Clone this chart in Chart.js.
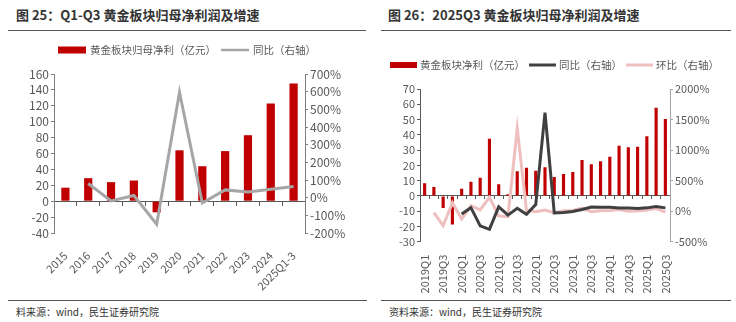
<!DOCTYPE html>
<html>
<head>
<meta charset="utf-8">
<script src="https://cdn.jsdelivr.net/npm/chart.js@4.4.0/dist/chart.umd.min.js"></script>
<style>
  body { margin: 0; width: 736px; height: 322px; background: #fff; position: relative; overflow: hidden; font-family: 'Noto Sans CJK SC', sans-serif; }
  .title { position: absolute; top: 6px; font-size: 13px; line-height: 18px; font-weight: bold; color: #333; white-space: nowrap; }
  .rule { position: absolute; height: 0; border-top: 1.5px solid #555; }
  .source { position: absolute; top: 305px; font-size: 10px; line-height: 14px; color: #333; white-space: nowrap; }
  canvas { position: absolute; top: 0; }
</style>
</head>
<body>
<div class="title" style="left:16px">图 25：Q1-Q3 黄金板块归母净利润及增速</div>
<div class="title" style="left:388px">图 26：2025Q3 黄金板块归母净利润及增速</div>
<div class="rule" style="left:8px;width:358px;top:30px"></div>
<div class="rule" style="left:381px;width:350px;top:30px"></div>

<canvas id="annual" width="368" height="300" style="left:0"></canvas>
<canvas id="quarterly" width="368" height="300" style="left:368px"></canvas>

<div class="rule" style="left:8px;width:359px;top:300px"></div>
<div class="rule" style="left:381px;width:350px;top:300px"></div>
<div class="source" style="left:16px">料来源：wind，民生证券研究院</div>
<div class="source" style="left:389px">资料来源：wind，民生证券研究院</div>

<script>
// 年度：归母净利（亿元）与同比（%）
const annualLabels = ['2015', '2016', '2017', '2018', '2019', '2020', '2021', '2022', '2023', '2024', '2025Q1-3'];
const annualProfit = [17, 29, 24, 26, -14, 64, 44, 63, 83, 123, 148];
const annualYoY = [null, 80, -18, 12, -150, 597, -30, 44, 32, 47, 63];

// 单季度：净利（亿元）、同比、环比（%）
const quarterLabels = [
  '2019Q1', '2019Q2', '2019Q3', '2019Q4',
  '2020Q1', '2020Q2', '2020Q3', '2020Q4',
  '2021Q1', '2021Q2', '2021Q3', '2021Q4',
  '2022Q1', '2022Q2', '2022Q3', '2022Q4',
  '2023Q1', '2023Q2', '2023Q3', '2023Q4',
  '2024Q1', '2024Q2', '2024Q3', '2024Q4',
  '2025Q1', '2025Q2', '2025Q3'
];
const quarterProfit = [8.3, 5.9, -7.9, -18.8, 4.6, 9.2, 11.8, 37.5, 7.6, 1.1, 16.1, 18.5, 16.4, 18.8, 12.4, 14.4, 15.7, 23.5, 20.7, 22.7, 25.7, 32.9, 31.8, 32.1, 39.0, 57.8, 50.4];
const quarterYoY = [null, null, null, null, -47, 57, -240, -298, 70, -65, 46, -52, 108, 1612, -28, -22, -4, 28, 66, 62, 64, 50, 52, 44, 54, 78, 54];
const quarterQoQ = [null, -24, -237, 139, -128, 91, 20, 227, -79, -90, 1356, 15, -8, 18, -30, 5, 12, 52, -8, 8, 12, 26, 0, 2, 18, 45, -15];

const tickColor = '#595959';
const fontFamily = "'Noto Sans CJK SC', sans-serif";

// 图例：色块/线段 + 文字，横排
const keyRow = {
  id: 'keyRow',
  afterDraw(chart, args, opts) {
    const ctx = chart.ctx;
    ctx.save();
    ctx.font = opts.size + 'px ' + fontFamily;
    ctx.textBaseline = 'middle';
    let x = opts.x;
    chart.data.datasets.forEach(ds => {
      if (ds.type === 'line') {
        ctx.strokeStyle = ds.borderColor;
        ctx.lineWidth = opts.lineWidth;
        ctx.beginPath();
        ctx.moveTo(x, opts.y);
        ctx.lineTo(x + opts.box, opts.y);
        ctx.stroke();
      } else {
        ctx.fillStyle = ds.backgroundColor;
        ctx.fillRect(x, opts.y - opts.boxHeight / 2, opts.box, opts.boxHeight);
      }
      ctx.fillStyle = tickColor;
      ctx.fillText(ds.label, x + opts.box + opts.gap, opts.y + 0.5);
      x += opts.box + opts.gap + ctx.measureText(ds.label).width + opts.space;
    });
    ctx.restore();
  }
};

function sideAxis(pos, min, max, step, width, color, suffix, size) {
  return {
    position: pos,
    min: min,
    max: max,
    grid: { drawOnChartArea: false, tickLength: 3, color: color },
    border: { color: color },
    ticks: {
      stepSize: step,
      autoSkip: false,
      color: tickColor,
      padding: 2,
      font: { family: fontFamily, size: size },
      callback: v => v + suffix
    },
    afterFit(scale) { scale.width = width; }
  };
}

new Chart(document.getElementById('annual'), {
  type: 'bar',
  data: {
    labels: annualLabels,
    datasets: [
      {
        type: 'bar',
        label: '黄金板块归母净利（亿元）',
        data: annualProfit,
        backgroundColor: '#C00000',
        categoryPercentage: 1,
        barPercentage: 0.36,
        xAxisID: 'x',
        yAxisID: 'y',
        order: 2
      },
      {
        type: 'line',
        label: '同比（右轴）',
        data: annualYoY,
        borderColor: '#A6A6A6',
        borderWidth: 3,
        pointRadius: 0,
        tension: 0,
        xAxisID: 'x',
        yAxisID: 'y1',
        order: 1
      }
    ]
  },
  options: {
    responsive: false,
    animation: false,
    layout: { padding: { top: 74, left: 0, right: 0, bottom: 0 } },
    plugins: {
      legend: { display: false },
      tooltip: { enabled: false },
      keyRow: { x: 58, y: 50, box: 28, boxHeight: 7, gap: 4, space: 5, size: 10.5, lineWidth: 2.5 }
    },
    scales: {
      x: {
        position: { y: 0 },
        offset: true,
        grid: { offset: true, drawOnChartArea: false, tickLength: 4, color: tickColor },
        border: { color: tickColor },
        ticks: { display: false }
      },
      xl: {
        type: 'category',
        position: 'bottom',
        offset: true,
        grid: { display: false },
        border: { display: false },
        ticks: {
          autoSkip: false,
          minRotation: 45,
          maxRotation: 45,
          padding: 8,
          color: tickColor,
          font: { family: fontFamily, size: 11 }
        },
        afterFit(scale) { scale.height = 67; }
      },
      y: sideAxis('left', -40, 160, 20, 54, '#7f7f7f', '', 12),
      y1: sideAxis('right', -200, 700, 100, 63, '#7f7f7f', '%', 12)
    }
  },
  plugins: [keyRow]
});

new Chart(document.getElementById('quarterly'), {
  type: 'bar',
  data: {
    labels: quarterLabels,
    datasets: [
      {
        type: 'bar',
        label: '黄金板块净利（亿元）',
        data: quarterProfit,
        backgroundColor: '#C00000',
        categoryPercentage: 1,
        barPercentage: 0.34,
        xAxisID: 'x',
        yAxisID: 'y',
        order: 3
      },
      {
        type: 'line',
        label: '同比（右轴）',
        data: quarterYoY,
        borderColor: '#404040',
        borderWidth: 3,
        pointRadius: 0,
        tension: 0,
        xAxisID: 'x',
        yAxisID: 'y1',
        order: 1
      },
      {
        type: 'line',
        label: '环比（右轴）',
        data: quarterQoQ,
        borderColor: '#EFBFBF',
        borderWidth: 3,
        pointRadius: 0,
        tension: 0,
        xAxisID: 'x',
        yAxisID: 'y1',
        order: 2
      }
    ]
  },
  options: {
    responsive: false,
    animation: false,
    layout: { padding: { top: 89, left: 0, right: 0, bottom: 0 } },
    plugins: {
      legend: { display: false },
      tooltip: { enabled: false },
      keyRow: { x: 22, y: 65, box: 27, boxHeight: 6, gap: 3, space: 4, size: 10.5, lineWidth: 3 }
    },
    scales: {
      x: {
        position: { y: 0 },
        offset: true,
        grid: { offset: true, drawOnChartArea: false, tickLength: 3, color: tickColor },
        border: { color: tickColor },
        ticks: { display: false }
      },
      xl: {
        type: 'category',
        position: 'bottom',
        offset: true,
        grid: { display: false },
        border: { display: false },
        ticks: {
          autoSkip: false,
          minRotation: 90,
          maxRotation: 90,
          padding: 5,
          color: tickColor,
          font: { family: fontFamily, size: 11 },
          // 只标注 Q1、Q3
          callback(value, index) { return index % 2 === 0 ? this.getLabelForValue(value) : ''; }
        },
        afterFit(scale) { scale.height = 58.3; }
      },
      y: sideAxis('left', -30, 70, 10, 52, '#595959', '', 11),
      y1: sideAxis('right', -500, 2000, 500, 66, '#A6A6A6', '%', 11)
    }
  },
  plugins: [keyRow]
});
</script>
</body>
</html>
